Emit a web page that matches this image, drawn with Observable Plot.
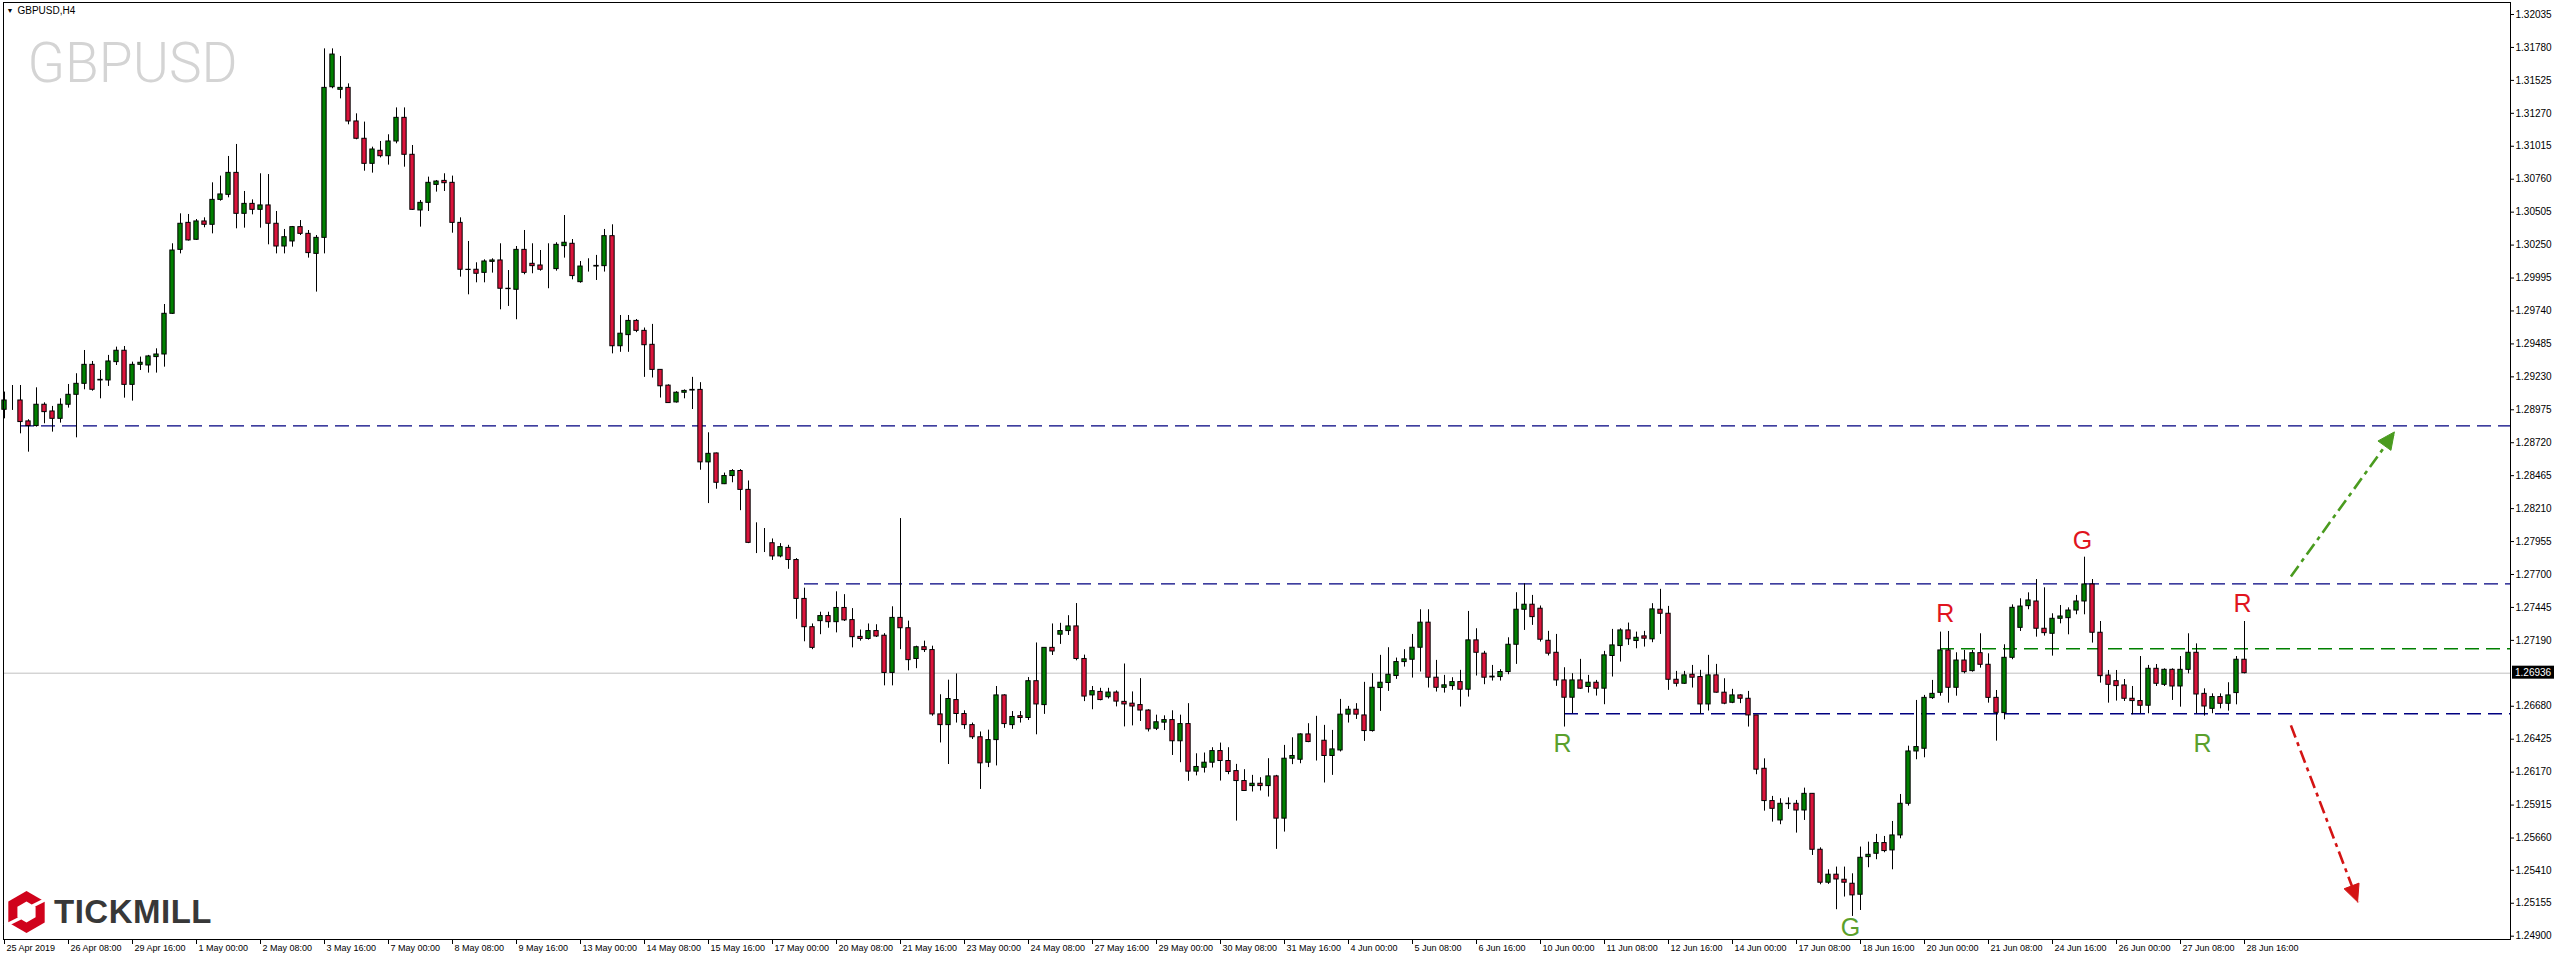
<!DOCTYPE html>
<html><head><meta charset="utf-8">
<script src="https://cdn.jsdelivr.net/npm/d3@7"></script>
<script src="https://cdn.jsdelivr.net/npm/@observablehq/plot@0.6"></script>
<style>
html,body{margin:0;padding:0;background:#fff;}
#chart{position:relative;width:2556px;height:960px;overflow:hidden;}
</style></head><body><div id="chart"></div>
<script>
// ---------- DATA (GBPUSD H4, 25 Apr 2019 00:00 .. 28 Jun 2019 16:00) ----------
const symbolName = "GBPUSD";
const headerLabel = "GBPUSD,H4";
const open = [
1.28975,1.29047,1.29047,1.28885,1.28849,1.29014,1.28962,1.28905,1.29014,1.29091,
1.29176,1.29323,1.29202,1.29202,1.29344,1.29432,1.29168,1.29323,1.29318,1.29383,
1.29403,1.29718,1.30213,1.30422,1.30291,1.30433,1.30407,1.30600,1.30639,1.30809,
1.30492,1.30569,1.30523,1.30557,1.30415,1.30239,1.30278,1.30389,1.30337,1.30182,
1.30306,1.31472,1.31452,1.31467,1.31207,1.31073,1.30879,1.30980,1.30938,1.31052,
1.31235,1.30949,1.30518,1.30577,1.30716,1.30747,1.30732,1.30422,1.30059,1.30059,
1.30035,1.30120,1.30131,1.29912,1.29904,1.30213,1.30105,1.30092,1.30064,1.30064,
1.30242,1.30260,1.29963,1.30084,1.30084,1.30087,1.30319,1.29467,1.29553,1.29663,
1.29586,1.29478,1.29284,1.29162,1.29032,1.29107,1.29124,1.29129,1.28568,1.28637,
1.28399,1.28462,1.28501,1.28355,1.27948,1.27945,1.27942,1.27840,1.27906,1.27812,
1.27511,1.27292,1.27339,1.27378,1.27331,1.27441,1.27347,1.27217,1.27201,1.27262,
1.27226,1.26938,1.27364,1.27284,1.27046,1.27137,1.27115,1.26617,1.26534,1.26728,
1.26620,1.26534,1.26440,1.26243,1.26418,1.26764,1.26534,1.26603,1.26589,1.26874,
1.26689,1.27132,1.27234,1.27262,1.27298,1.27046,1.26764,1.26791,1.26750,1.26786,
1.26714,1.26700,1.26689,1.26647,1.26506,1.26553,1.26573,1.26409,1.26542,1.26174,
1.26204,1.26243,1.26333,1.26256,1.26178,1.26101,1.26062,1.26080,1.26062,1.26137,
1.25810,1.26274,1.26266,1.26462,1.26408,1.26413,1.26295,1.26338,1.26615,1.26653,
1.26609,1.26488,1.26821,1.26860,1.26914,1.27022,1.27040,1.27133,1.27327,1.26901,
1.26823,1.26836,1.26867,1.26808,1.27190,1.27087,1.26903,1.26906,1.26945,1.27156,
1.27427,1.27466,1.27435,1.27187,1.27094,1.26880,1.26746,1.26880,1.26829,1.26862,
1.26816,1.27069,1.27146,1.27267,1.27185,1.27221,1.27198,1.27427,1.27396,1.26885,
1.26854,1.26924,1.26906,1.26694,1.26919,1.26785,1.26707,1.26764,1.26738,1.26609,
1.26196,1.25946,1.25796,1.25925,1.25925,1.25873,1.26002,1.25569,1.25314,1.25376,
1.25337,1.25306,1.25221,1.25512,1.25538,1.25621,1.25564,1.25680,1.25925,1.26330,
1.26351,1.26743,1.26784,1.27112,1.26823,1.27034,1.26952,1.27091,1.27001,1.26745,
1.26627,1.27055,1.27287,1.27455,1.27491,1.27280,1.27241,1.27357,1.27362,1.27421,
1.27491,1.27623,1.27249,1.26918,1.26874,1.26841,1.26738,1.26720,1.26684,1.26970,
1.26846,1.26962,1.26833,1.26962,1.27094,1.26776,1.26660,1.26751,1.26699,1.26782,
1.27040];
const high = [
1.29112,1.29163,1.29163,1.28898,1.29145,1.29029,1.29001,1.29060,1.29171,1.29254,
1.29434,1.29349,1.29279,1.29396,1.29460,1.29465,1.29344,1.29383,1.29396,1.29447,
1.29790,1.30260,1.30492,1.30487,1.30448,1.30461,1.30732,1.30784,1.30936,1.31029,
1.30665,1.30600,1.30802,1.30796,1.30510,1.30371,1.30394,1.30440,1.30363,1.30324,
1.31769,1.31769,1.31710,1.31498,1.31266,1.31202,1.31008,1.31052,1.31104,1.31312,
1.31312,1.31021,1.30595,1.30776,1.30750,1.30802,1.30784,1.30461,1.30278,1.30113,
1.30136,1.30144,1.30260,1.30053,1.30239,1.30363,1.30260,1.30208,1.30260,1.30268,
1.30479,1.30293,1.30123,1.30144,1.30170,1.30371,1.30407,1.29705,1.29705,1.29674,
1.29608,1.29636,1.29284,1.29168,1.29115,1.29129,1.29226,1.29185,1.28797,1.28640,
1.28485,1.28512,1.28512,1.28424,1.28100,1.28056,1.27975,1.27939,1.27926,1.27823,
1.27594,1.27317,1.27408,1.27408,1.27566,1.27544,1.27436,1.27270,1.27317,1.27311,
1.27242,1.27450,1.28133,1.27339,1.27145,1.27184,1.27145,1.26769,1.26882,1.26930,
1.26645,1.26550,1.26481,1.26495,1.26833,1.26769,1.26639,1.26639,1.26902,1.27170,
1.27132,1.27317,1.27322,1.27381,1.27475,1.27076,1.26833,1.26819,1.26819,1.26799,
1.27007,1.26791,1.26894,1.26653,1.26611,1.26606,1.26645,1.26611,1.26700,1.26312,
1.26318,1.26359,1.26395,1.26359,1.26230,1.26189,1.26145,1.26127,1.26274,1.26145,
1.26377,1.26436,1.26467,1.26545,1.26602,1.26532,1.26493,1.26733,1.26679,1.26700,
1.26865,1.26932,1.27074,1.27133,1.27053,1.27118,1.27236,1.27427,1.27427,1.27035,
1.26919,1.26901,1.26958,1.27414,1.27280,1.27105,1.26996,1.26963,1.27210,1.27559,
1.27628,1.27538,1.27456,1.27260,1.27236,1.26978,1.26932,1.27043,1.26919,1.26880,
1.27105,1.27275,1.27280,1.27324,1.27254,1.27260,1.27474,1.27585,1.27453,1.26950,
1.26950,1.26996,1.26958,1.27074,1.27004,1.26893,1.26811,1.26769,1.26795,1.26609,
1.26273,1.25982,1.25964,1.25971,1.25951,1.26046,1.26002,1.25584,1.25414,1.25435,
1.25435,1.25383,1.25590,1.25628,1.25688,1.25672,1.25788,1.25997,1.26371,1.26725,
1.26764,1.26880,1.27254,1.27259,1.27094,1.27112,1.27112,1.27241,1.27086,1.26802,
1.27156,1.27465,1.27512,1.27558,1.27661,1.27597,1.27396,1.27460,1.27442,1.27538,
1.27834,1.27661,1.27336,1.26957,1.26957,1.26887,1.26833,1.27065,1.26996,1.27003,
1.26970,1.26970,1.27065,1.27241,1.27163,1.26815,1.26776,1.26776,1.26862,1.27065,
1.27336];
const low = [
1.28905,1.28970,1.28789,1.28647,1.28841,1.28867,1.28802,1.28872,1.28988,1.28758,
1.29130,1.29119,1.29060,1.29156,1.29318,1.29065,1.29042,1.29279,1.29259,1.29259,
1.29305,1.29713,1.30182,1.30281,1.30286,1.30384,1.30337,1.30590,1.30616,1.30376,
1.30381,1.30484,1.30381,1.30252,1.30182,1.30182,1.30234,1.30324,1.30149,1.29886,
1.30182,1.31460,1.31382,1.31181,1.31065,1.30822,1.30807,1.30925,1.30869,1.31034,
1.30853,1.30518,1.30389,1.30510,1.30660,1.30665,1.30342,1.30002,1.29865,1.29958,
1.29958,1.30033,1.29749,1.29775,1.29672,1.30020,1.30028,1.30048,1.29912,1.30048,
1.30149,1.29981,1.29955,1.30041,1.29976,1.30041,1.29408,1.29420,1.29420,1.29572,
1.29226,1.29221,1.29066,1.29027,1.29027,1.29060,1.28977,1.28507,1.28249,1.28360,
1.28396,1.28410,1.28194,1.27939,1.27862,1.27870,1.27809,1.27829,1.27740,1.27353,
1.27179,1.27118,1.27234,1.27284,1.27248,1.27336,1.27132,1.27184,1.27192,1.27212,
1.26838,1.26838,1.27118,1.26954,1.26971,1.27096,1.26603,1.26396,1.26229,1.26550,
1.26501,1.26423,1.26036,1.26205,1.26218,1.26509,1.26501,1.26550,1.26570,1.26459,
1.26617,1.27073,1.27159,1.27228,1.27032,1.26716,1.26653,1.26722,1.26736,1.26675,
1.26520,1.26528,1.26562,1.26481,1.26492,1.26492,1.26299,1.26243,1.26099,1.26141,
1.26163,1.26202,1.26101,1.26150,1.25791,1.26021,1.26016,1.26024,1.25977,1.25572,
1.25706,1.26228,1.26235,1.26398,1.26256,1.26086,1.26145,1.26326,1.26550,1.26578,
1.26408,1.26480,1.26640,1.26795,1.26888,1.26983,1.26898,1.26945,1.26821,1.26790,
1.26782,1.26803,1.26674,1.26751,1.26914,1.26847,1.26875,1.26875,1.26924,1.27004,
1.27267,1.27306,1.27177,1.27069,1.26834,1.26519,1.26622,1.26811,1.26782,1.26759,
1.26692,1.26906,1.27022,1.27151,1.27125,1.27138,1.27172,1.27236,1.26803,1.26829,
1.26849,1.26821,1.26617,1.26643,1.26782,1.26692,1.26700,1.26700,1.26519,1.26150,
1.25868,1.25783,1.25763,1.25881,1.25698,1.25796,1.25525,1.25298,1.25301,1.25105,
1.25203,1.25053,1.25099,1.25430,1.25492,1.25546,1.25414,1.25654,1.25907,1.26266,
1.26281,1.26733,1.26758,1.26704,1.26758,1.26931,1.26944,1.26975,1.26704,1.26410,
1.26575,1.27040,1.27259,1.27427,1.27215,1.27223,1.27068,1.27318,1.27233,1.27388,
1.27388,1.27169,1.26859,1.26704,1.26720,1.26717,1.26614,1.26622,1.26622,1.26833,
1.26833,1.26725,1.26673,1.26931,1.26622,1.26604,1.26622,1.26660,1.26642,1.26691,
1.26931];
const close = [
1.29047,1.29047,1.28880,1.28849,1.29014,1.28957,1.28905,1.29014,1.29091,1.29176,
1.29323,1.29130,1.29207,1.29349,1.29432,1.29168,1.29323,1.29339,1.29388,1.29403,
1.29718,1.30208,1.30415,1.30286,1.30433,1.30407,1.30600,1.30642,1.30809,1.30492,
1.30569,1.30523,1.30557,1.30415,1.30239,1.30311,1.30389,1.30337,1.30188,1.30306,
1.31467,1.31725,1.31467,1.31207,1.31073,1.30879,1.30990,1.30938,1.31052,1.31235,
1.30949,1.30523,1.30577,1.30732,1.30742,1.30729,1.30422,1.30059,1.30057,1.30028,
1.30123,1.30131,1.29912,1.29909,1.30213,1.30035,1.30087,1.30059,1.30064,1.30252,
1.30268,1.30010,1.30084,1.30084,1.30089,1.30319,1.29467,1.29564,1.29663,1.29586,
1.29475,1.29284,1.29157,1.29027,1.29107,1.29121,1.29129,1.28568,1.28634,1.28410,
1.28462,1.28501,1.28355,1.27945,1.27948,1.27945,1.27840,1.27912,1.27812,1.27511,
1.27292,1.27132,1.27378,1.27331,1.27441,1.27345,1.27215,1.27201,1.27262,1.27220,
1.26938,1.27364,1.27284,1.27037,1.27137,1.27115,1.26617,1.26534,1.26736,1.26620,
1.26534,1.26440,1.26238,1.26418,1.26764,1.26542,1.26597,1.26589,1.26874,1.26694,
1.27132,1.27104,1.27262,1.27298,1.27046,1.26755,1.26797,1.26728,1.26786,1.26716,
1.26694,1.26678,1.26647,1.26501,1.26556,1.26573,1.26409,1.26542,1.26174,1.26210,
1.26243,1.26333,1.26256,1.26171,1.26101,1.26024,1.26080,1.26062,1.26137,1.25810,
1.26274,1.26295,1.26462,1.26403,1.26408,1.26295,1.26346,1.26615,1.26653,1.26615,
1.26488,1.26823,1.26862,1.26924,1.27022,1.27043,1.27133,1.27327,1.26901,1.26823,
1.26842,1.26867,1.26808,1.27190,1.27094,1.26901,1.26909,1.26945,1.27156,1.27427,
1.27466,1.27370,1.27195,1.27087,1.26880,1.26746,1.26880,1.26816,1.26862,1.26816,
1.27074,1.27151,1.27267,1.27198,1.27210,1.27203,1.27430,1.27396,1.26885,1.26854,
1.26919,1.26901,1.26694,1.26919,1.26785,1.26700,1.26764,1.26738,1.26609,1.26189,
1.25946,1.25886,1.25925,1.25922,1.25873,1.26002,1.25569,1.25314,1.25376,1.25339,
1.25314,1.25216,1.25507,1.25530,1.25621,1.25559,1.25680,1.25925,1.26330,1.26364,
1.26745,1.26776,1.27112,1.26823,1.27034,1.26944,1.27091,1.27001,1.26745,1.26629,
1.27055,1.27442,1.27452,1.27499,1.27280,1.27246,1.27357,1.27375,1.27421,1.27491,
1.27623,1.27249,1.26913,1.26846,1.26836,1.26738,1.26720,1.26684,1.26970,1.26854,
1.26962,1.26833,1.26962,1.27094,1.26771,1.26678,1.26751,1.26699,1.26764,1.27040,
1.26936];
const timeLabels = ["25 Apr 2019","26 Apr 08:00","29 Apr 16:00","1 May 00:00","2 May 08:00","3 May 16:00",
"7 May 00:00","8 May 08:00","9 May 16:00","13 May 00:00","14 May 08:00","15 May 16:00","17 May 00:00",
"20 May 08:00","21 May 16:00","23 May 00:00","24 May 08:00","27 May 16:00","29 May 00:00","30 May 08:00",
"31 May 16:00","4 Jun 00:00","5 Jun 08:00","6 Jun 16:00","10 Jun 00:00","11 Jun 08:00","12 Jun 16:00",
"14 Jun 00:00","17 Jun 08:00","18 Jun 16:00","20 Jun 00:00","21 Jun 08:00","24 Jun 16:00","26 Jun 00:00",
"27 Jun 08:00","28 Jun 16:00"];
const barsPerLabel = 8;
const priceTicks = [1.32035,1.31780,1.31525,1.31270,1.31015,1.30760,1.30505,1.30250,1.29995,1.29740,
1.29485,1.29230,1.28975,1.28720,1.28465,1.28210,1.27955,1.27700,1.27445,1.27190,1.26680,1.26425,
1.26170,1.25915,1.25660,1.25410,1.25155,1.24900];
const currentPrice = 1.26936;
// horizontal levels: price and first bar
const levelPrices = [1.28850, 1.27628, 1.26622, 1.27125];
const levelStartBars = [2, 100, 195, 242];
const levelKinds = ["navy", "navy", "navy", "green"];
// scenario arrows (bar index / price)
const arrowFrom = [[285.8, 1.27685], [285.8, 1.26532]];
const arrowTo = [[298.8, 1.28800], [294.2, 1.25162]];
const arrowKinds = ["up", "down"];
// pattern letters
const markText = ["R", "G", "R", "R", "G", "R"];
const markBar = [242.6, 259.75, 279.75, 194.75, 230.75, 274.75];
const markPrice = [1.27395, 1.27963, 1.27468, 1.26384, 1.24960, 1.26384];
const markKinds = ["red", "red", "red", "green", "green", "green"];
const brandName = "TICKMILL";

// ---------- build ----------
const candles = open.map((o, i) => ({i, open: o, high: high[i], low: low[i], close: close[i]}));
const levels = levelPrices.map((p, k) => ({price: p, start: levelStartBars[k], kind: levelKinds[k]}));
const arrows = arrowFrom.map((a, k) => ({x1: a[0], y1: a[1], x2: arrowTo[k][0], y2: arrowTo[k][1], kind: arrowKinds[k]}));
const marks = markText.map((t, k) => ({text: t, x: markBar[k], y: markPrice[k], kind: markKinds[k]}));

const xDomain = [-0.125, 313.25];
const yDomain = [1.248744, 1.321279];
const UP = "#008000", DOWN = "#dc143c";
const levelColor = {navy: "#000080", green: "#008000"};
const arrowColor = {up: "#4a9b1f", down: "#d41414"};
const markColor = {red: "#e0141e", green: "#5aa02c"};
const bodyHalf = 0.27;
const tickIdx = timeLabels.map((_, k) => k * barsPerLabel);

const chart = Plot.plot({
  width: 2556, height: 960,
  marginLeft: 3, marginRight: 46, marginTop: 2, marginBottom: 21,
  style: {fontFamily: "'Liberation Sans', Arial, sans-serif", fontSize: "10px", background: "#fff", overflow: "visible"},
  x: {type: "linear", domain: xDomain, axis: null},
  y: {type: "linear", domain: yDomain, axis: null},
  color: {type: "identity"},
  marks: [
    Plot.text([symbolName], {frameAnchor: "top-left", dx: 24, dy: 40, text: d => d, fontSize: 55, fontWeight: 300,
      fontFamily: "Roboto, 'Open Sans', sans-serif", fill: "#d4d4d4", textAnchor: "start", lineAnchor: "top"}),
    Plot.text(["▼"], {frameAnchor: "top-left", dx: 6.5, dy: 8.5, text: d => d, fontSize: 7, fill: "#000", textAnchor: "middle", lineAnchor: "middle"}),
    Plot.text([headerLabel], {frameAnchor: "top-left", dx: 14, dy: 8.7, text: d => d, fontSize: 10, fill: "#000", textAnchor: "start", lineAnchor: "middle"}),
    Plot.ruleY([currentPrice], {y: d => d, stroke: "#c0c0c0", strokeWidth: 1}),
    Plot.ruleY(levels, {y: "price", x1: "start", x2: () => xDomain[1], stroke: d => levelColor[d.kind], strokeWidth: 1.3, strokeDasharray: "14,7"}),
    Plot.ruleX(candles, {x: "i", y1: "low", y2: "high", stroke: "#000", strokeWidth: 1}),
    Plot.rect(candles, {x1: d => d.i - bodyHalf, x2: d => d.i + bodyHalf, y1: "open", y2: "close",
      fill: d => d.close >= d.open ? UP : DOWN, stroke: "#000", strokeWidth: 1}),
    Plot.link(arrows, {x1: "x1", y1: "y1", x2: "x2", y2: "y2", stroke: d => arrowColor[d.kind], strokeWidth: 2.6, strokeDasharray: "13,5,4,5"}),
    Plot.text(marks, {x: "x", y: "y", text: "text", fill: d => markColor[d.kind], fontSize: 25, textAnchor: "middle", lineAnchor: "middle",
      fontFamily: "'Liberation Sans', Arial, sans-serif"}),
    Plot.axisY({anchor: "right", ticks: priceTicks, tickSize: 3, tickPadding: 2, tickFormat: d => d.toFixed(5), label: null, fontSize: 10}),
    Plot.axisX({anchor: "bottom", ticks: tickIdx, tickSize: 5, tickFormat: () => "", label: null}),
    Plot.axisX({anchor: "bottom", ticks: tickIdx, tickSize: 0, tickPadding: 5, tickFormat: i => timeLabels[i / barsPerLabel],
      textAnchor: "start", dx: 2, fontSize: 9, label: null}),
    Plot.frame({stroke: "#000", strokeWidth: 1})
  ]
});
document.getElementById("chart").appendChild(chart);

// ---------- decorations using the plot's scales ----------
const svg = d3.select(chart);
const sx = chart.scale("x"), sy = chart.scale("y");
// arrow heads
arrows.forEach(a => {
  const x1 = sx.apply(a.x1), y1 = sy.apply(a.y1), x2 = sx.apply(a.x2), y2 = sy.apply(a.y2);
  const ang = Math.atan2(y2 - y1, x2 - x1);
  const L = 17, W = 8;
  const bx = x2 - L * Math.cos(ang), by = y2 - L * Math.sin(ang);
  const px = -Math.sin(ang), py = Math.cos(ang);
  svg.append("path")
    .attr("d", `M${x2},${y2}L${bx + W * px},${by + W * py}L${bx - W * px},${by - W * py}Z`)
    .attr("fill", arrowColor[a.kind]).attr("stroke", arrowColor[a.kind]).attr("stroke-width", 1);
});
// current price box
const xr = sx.apply(xDomain[1]);
const yp = sy.apply(currentPrice);
svg.append("rect").attr("x", xr + 2).attr("y", yp - 7).attr("width", 42).attr("height", 13).attr("fill", "#000");
svg.append("text").attr("x", xr + 5).attr("y", yp).attr("dy", "0.35em").attr("fill", "#fff")
  .attr("text-anchor", "start").attr("font-size", 10).text(currentPrice.toFixed(5));
// TICKMILL logo
const g = svg.append("g").attr("transform", "translate(26.5,912)");
const hex = r => d3.range(6).map(k => { const t = (k * 60 - 90) * Math.PI / 180; return [r * Math.cos(t), r * Math.sin(t)]; });
g.append("path").attr("d", "M" + hex(21).join("L") + "Z").attr("fill", "#d0021b");
g.append("path").attr("d", "M" + hex(10.5).join("L") + "Z").attr("fill", "#fff");
g.append("line").attr("x1", 6).attr("y1", -6).attr("x2", 22).attr("y2", -14).attr("stroke", "#fff").attr("stroke-width", 3.2);
g.append("line").attr("x1", -6).attr("y1", 6).attr("x2", -22).attr("y2", 14).attr("stroke", "#fff").attr("stroke-width", 3.2);
svg.append("text").attr("x", 54).attr("y", 923).attr("text-anchor", "start").attr("font-size", 33).attr("font-weight", "bold")
  .attr("fill", "#383838").attr("letter-spacing", 0.5).text(brandName);
</script>
</body></html>
